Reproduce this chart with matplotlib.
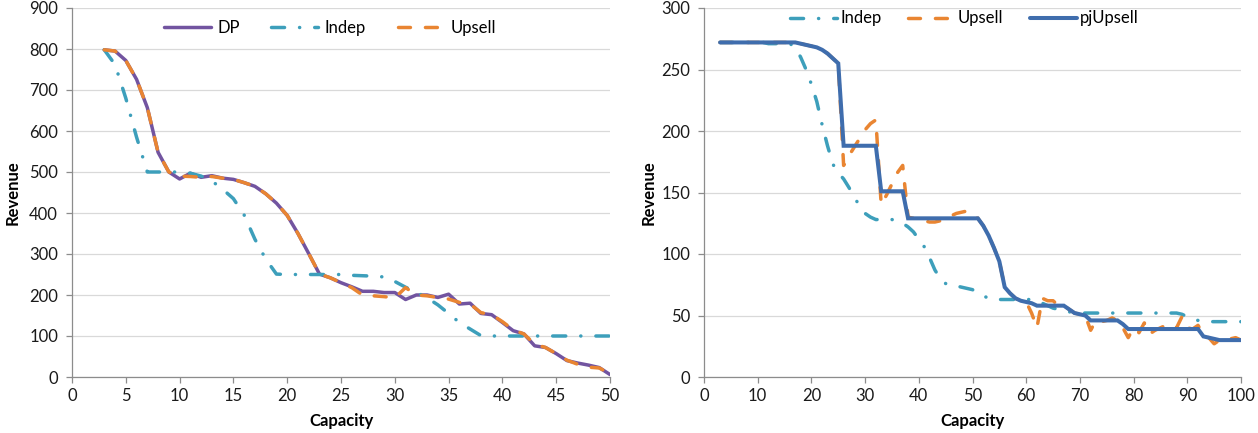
import matplotlib
matplotlib.use("Agg")
import matplotlib.pyplot as plt

plt.rcParams['font.family'] = ['Lato', 'DejaVu Sans']
plt.rcParams['lines.scale_dashes'] = False

# ---------------- Left chart data ----------------
cap_left = [3, 4, 5, 6, 7, 8, 9, 10, 11, 12, 13, 14, 15, 16, 17, 18, 19, 20, 21, 22,
            23, 24, 25, 26, 27, 28, 29, 30, 31, 32, 33, 34, 35, 36, 37, 38, 39, 40, 41, 42,
            43, 44, 45, 46, 47, 48, 49, 50]
dp_left = [798, 795, 772, 726, 657, 548, 500, 483, 497, 487, 491, 485, 482, 474, 465, 447, 424, 394, 350, 301,
           251, 242, 230, 220, 209, 209, 206, 206, 189, 200, 200, 194, 202, 178, 180, 155, 152, 133, 113, 105,
           76, 72, 57, 40, 34, 29, 23, 6]
indep_left = [798, 762, 680, 585, 500, 500, 500, 500, 497, 490, 478, 458, 435, 395, 336, 288, 251, 250, 250, 250,
              250, 250, 250, 248, 247, 246, 244, 233, 219, 207, 193, 176, 155, 133, 117, 101, 100, 100, 100, 100,
              100, 100, 100, 100, 100, 100, 100, 100]
upsell_left = [798, 795, 772, 726, 657, 548, 500, 490, 489, 487, 489, 485, 482, 474, 465, 447, 424, 394, 350, 301,
               251, 242, 230, 218, 200, 198, 196, 193, 218, 200, 198, 194, 190, 182, 178, 157, 152, 135, 115, 105,
               80, 72, 57, 41, 31, 24, 22, 8]

# ---------------- Right chart data ----------------
cap_right = [3, 4, 5, 6, 7, 8, 9, 10, 11, 12, 13, 14, 15, 16, 17, 18, 19, 20, 21, 22,
             23, 24, 25, 26, 27, 28, 29, 30, 31, 32, 33, 34, 35, 36, 37, 38, 39, 40, 41, 42,
             43, 44, 45, 46, 47, 48, 49, 50, 51, 52, 53, 54, 55, 56, 57, 58, 59, 60, 61, 62,
             63, 64, 65, 66, 67, 68, 69, 70, 71, 72, 73, 74, 75, 76, 77, 78, 79, 80, 81, 82,
             83, 84, 85, 86, 87, 88, 89, 90, 91, 92, 93, 94, 95, 96, 97, 98, 99, 100]
indep_right = [272, 272, 272, 272, 272, 272, 272, 272, 272, 271, 271, 271, 271, 271, 268, 260, 250, 238, 224, 205,
               188, 173, 166, 161, 154, 146, 139, 133, 130, 128, 128, 128, 128, 127, 125, 122, 118, 112, 106, 97,
               87, 80, 76, 74, 74, 73, 72, 71, 68, 66, 64, 63, 63, 63, 63, 63, 63, 63, 63, 62,
               60, 58, 56, 55, 54, 53, 52, 52, 52, 52, 52, 52, 52, 52, 52, 52, 52, 52, 52, 52,
               52, 52, 52, 52, 52, 52, 51, 49, 47, 46, 45, 45, 45, 45, 45, 45, 45, 45]
upsell_right = [272, 272, 272, 272, 272, 272, 272, 272, 272, 272, 272, 272, 272, 272, 272, 271, 270, 269, 268, 266,
                263, 259, 255, 172, 180, 187, 194, 201, 206, 209, 140, 148, 157, 166, 172, 130, 129, 128, 127, 126,
                126, 127, 129, 131, 133, 134, 135, 131, 129, 123, 115, 105, 94, 73, 68, 64, 62, 61, 52, 40,
                64, 62, 62, 58, 58, 55, 52, 51, 50, 38, 46, 45, 46, 48, 46, 40, 32, 40, 36, 44,
                35, 38, 40, 42, 39, 40, 49, 40, 39, 42, 34, 32, 27, 30, 30, 31, 32, 30]
pj_right = [272, 272, 272, 272, 272, 272, 272, 272, 272, 272, 272, 272, 272, 272, 272, 271, 270, 269, 268, 266,
            263, 259, 255, 188, 188, 188, 188, 188, 188, 188, 151, 151, 151, 151, 151, 129, 129, 129, 129, 129,
            129, 129, 129, 129, 129, 129, 129, 129, 129, 123, 115, 105, 94, 73, 68, 64, 62, 61, 60, 58,
            58, 58, 58, 58, 58, 55, 52, 51, 50, 46, 46, 46, 46, 46, 46, 43, 39, 39, 39, 39,
            39, 39, 39, 39, 39, 39, 39, 39, 39, 39, 33, 32, 31, 30, 30, 30, 30, 30]

left_xticks = [0, 5, 10, 15, 20, 25, 30, 35, 40, 45, 50]
left_yticks = [0, 100, 200, 300, 400, 500, 600, 700, 800, 900]
right_xticks = [0, 10, 20, 30, 40, 50, 60, 70, 80, 90, 100]
right_yticks = [0, 50, 100, 150, 200, 250, 300]

# ---------------- Styling ----------------
C_DP = '#7254A0'
C_INDEP = '#3D9FBB'
C_UPSELL = '#E98532'
C_PJ = '#3F6DAD'
LW = 2.5
DASH_INDEP = (0, (9.4, 10.8, 0.1, 10.8))
DASH_UPSELL = (0, (8.6, 10.8))
FS = 12

W, H = 1258, 433
fig = plt.figure(figsize=(W / 100, H / 100), dpi=100)

def px_axes(x0, x1, y_top, y_bot):
    return fig.add_axes([x0 / W, (H - y_bot) / H, (x1 - x0) / W, (y_bot - y_top) / H])

axL = px_axes(72, 610, 8, 377)
axR = px_axes(704, 1241, 8, 377)

def style(ax):
    for s in ['top', 'right']:
        ax.spines[s].set_visible(False)
    for s in ['left', 'bottom']:
        ax.spines[s].set_color('#8C8C8C')
        ax.spines[s].set_linewidth(0.9)
    ax.tick_params(axis='both', direction='out', length=4, width=0.9, color='#8C8C8C',
                   labelsize=FS, labelcolor='#1a1a1a')
    ax.tick_params(axis='y', pad=6)
    ax.tick_params(axis='x', pad=4)
    ax.grid(axis='y', color='#D9D9D9', linewidth=0.9)
    ax.set_axisbelow(True)

# Left chart
l1, = axL.plot(cap_left, dp_left, color=C_DP, lw=LW, solid_capstyle='round', solid_joinstyle='round', label='DP', zorder=3)
l2, = axL.plot(cap_left, indep_left, color=C_INDEP, lw=LW, linestyle=DASH_INDEP, dash_capstyle='round', label='Indep', zorder=4)
l3, = axL.plot(cap_left, upsell_left, color=C_UPSELL, lw=LW, linestyle=DASH_UPSELL, dash_capstyle='round', label='Upsell', zorder=5)
axL.set_xlim(0, 50)
axL.set_ylim(0, 900)
axL.set_xticks(left_xticks)
axL.set_yticks(left_yticks)
style(axL)
axL.set_xlabel('Capacity', fontsize=FS, fontweight='bold')
axL.set_ylabel('Revenue', fontsize=FS, fontweight='bold')
axL.xaxis.set_label_coords(0.5, -0.098)
axL.yaxis.set_label_coords(-0.095, 0.5)
axL.legend(handles=[l1, l2, l3], loc='upper center', bbox_to_anchor=(0.48, 1.0), ncol=3, frameon=False,
           fontsize=FS, handlelength=2.8, handletextpad=0.4, columnspacing=1.9, borderpad=0.2)

# Right chart
r1, = axR.plot(cap_right, indep_right, color=C_INDEP, lw=LW, linestyle=DASH_INDEP, dash_capstyle='round', label='Indep', zorder=3)
r2, = axR.plot(cap_right, upsell_right, color=C_UPSELL, lw=LW, linestyle=DASH_UPSELL, dash_capstyle='round', label='Upsell', zorder=4)
r3, = axR.plot(cap_right, pj_right, color=C_PJ, lw=LW + 0.4, solid_capstyle='round', solid_joinstyle='miter', label='pjUpsell', zorder=5)
axR.set_xlim(0, 100)
axR.set_ylim(0, 300)
axR.set_xticks(right_xticks)
axR.set_yticks(right_yticks)
style(axR)
axR.set_xlabel('Capacity', fontsize=FS, fontweight='bold')
axR.set_ylabel('Revenue', fontsize=FS, fontweight='bold')
axR.xaxis.set_label_coords(0.5, -0.098)
axR.yaxis.set_label_coords(-0.089, 0.5)
axR.legend(handles=[r1, r2, r3], loc='upper center', bbox_to_anchor=(0.485, 1.025), ncol=3, frameon=False,
           fontsize=FS, handlelength=2.8, handletextpad=0.2, columnspacing=1.6, borderpad=0.2)

fig.savefig('out.png', dpi=100)
